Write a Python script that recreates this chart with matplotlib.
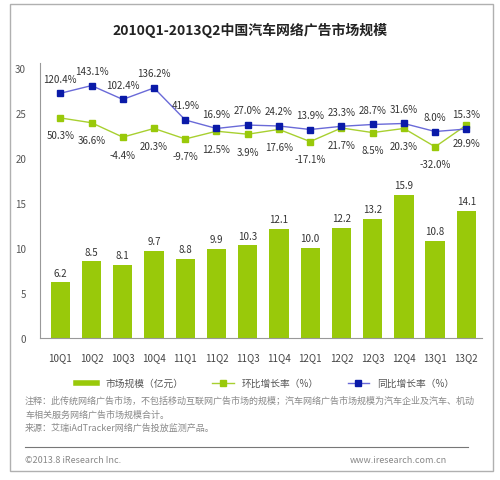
import matplotlib
matplotlib.use("Agg")
import matplotlib.pyplot as plt
from matplotlib.patches import Rectangle
from matplotlib.lines import Line2D

plt.rcParams['font.family'] = ['Noto Sans CJK SC', 'DejaVu Sans']

quarters = ["10Q1","10Q2","10Q3","10Q4","11Q1","11Q2","11Q3","11Q4","12Q1","12Q2","12Q3","12Q4","13Q1","13Q2"]
market = [6.2,8.5,8.1,9.7,8.8,9.9,10.3,12.1,10.0,12.2,13.2,15.9,10.8,14.1]
qoq = [50.3,36.6,-4.4,20.3,-9.7,12.5,3.9,17.6,-17.1,21.7,8.5,20.3,-32.0,29.9]
yoy = [120.4,143.1,102.4,136.2,41.9,16.9,27.0,24.2,13.9,23.3,28.7,31.6,8.0,15.3]

W, H = 500, 481
fig = plt.figure(figsize=(W/100, H/100), dpi=100)
fig.patches.append(Rectangle((10/W, 1-472/H), 483/W, 467/H, transform=fig.transFigure,
                             fill=False, edgecolor='#b0b0b0', lw=1))

ax = fig.add_axes([40/W, 1-339/H, 442/W, 275/H])
x = list(range(len(quarters)))
ax.bar(x, market, width=0.62, color='#99c90a')
for xi, v in zip(x, market):
    ax.text(xi, v + 0.5, f"{v:.1f}", ha='center', va='bottom', fontsize=7, color='#333333')
ax.set_ylim(0, 30.5)
ax.set_xlim(-0.65, 13.5)
ax.set_yticks([0,5,10,15,20,25,30])
ax.tick_params(axis='y', length=0, labelsize=7, labelcolor='#555555', pad=10)
ax.tick_params(axis='x', length=0, labelsize=7, labelcolor='#444444', pad=10)
ax.set_xticks(x)
ax.set_xticklabels(quarters)
for s in ['top','right']:
    ax.spines[s].set_visible(False)
ax.spines['left'].set_color('#999999')
ax.spines['bottom'].set_color('#999999')

# green (qoq): y = 22.45 + 0.0389 v
a2 = ax.twinx()
a2.set_ylim(-22.45/0.0389, (30.5-22.45)/0.0389)
a2.plot(x, qoq, color='#a8d030', lw=1, marker='s', ms=5, mfc='#99c90a', mec='#99c90a')
a2.axis('off')
# blue (yoy): y = 22.6 + 0.0377 v
a3 = ax.twinx()
a3.set_ylim(-22.6/0.0377, (30.5-22.6)/0.0377)
a3.plot(x, yoy, color='#6a6ad8', lw=1, marker='s', ms=5, mfc='#0a1aa8', mec='#0a1aa8')
a3.axis('off')

for xi, v in zip(x, qoq):
    a2.annotate(f"{v:.1f}%", (xi, v), xytext=(0, -9), textcoords='offset points',
                ha='center', va='top', fontsize=7, color='#333333')
for xi, v in zip(x, yoy):
    a3.annotate(f"{v:.1f}%", (xi, v), xytext=(0, 7), textcoords='offset points',
                ha='center', va='bottom', fontsize=7, color='#333333')

fig.text(0.5, 1-30/H, "2010Q1-2013Q2中国汽车网络广告市场规模", ha='center', va='center',
         fontsize=10, fontweight='bold', color='#222222')

handles = [Line2D([], [], color='#99c90a', lw=4),
           Line2D([], [], color='#a8d030', lw=1, marker='s', ms=4, mfc='#99c90a', mec='#99c90a'),
           Line2D([], [], color='#6a6ad8', lw=1, marker='s', ms=4, mfc='#0a1aa8', mec='#0a1aa8')]
fig.legend(handles, ["市场规模（亿元）", "环比增长率（%）", "同比增长率（%）"],
           loc='center', bbox_to_anchor=(0.53, 1-384/H), ncol=3, frameon=False,
           fontsize=7, handlelength=2.2, columnspacing=3, labelcolor='#555555')

note = ("注释：此传统网络广告市场，不包括移动互联网广告市场的规模；汽车网络广告市场规模为汽车企业及汽车、机动\n"
        "车相关服务网络广告市场规模合计。\n来源：艾瑞iAdTracker网络广告投放监测产品。")
fig.text(25/W, 1-397/H, note, ha='left', va='top', fontsize=6.5, color='#888888', linespacing=1.55)
fig.add_artist(Line2D([25/W, 468/W], [1-448/H, 1-448/H], transform=fig.transFigure, color='#777777', lw=0.8))
fig.text(25/W, 1-461/H, "©2013.8 iResearch Inc.", ha='left', va='center', fontsize=6.5, color='#888888')
fig.text(350/W, 1-461/H, "www.iresearch.com.cn", ha='left', va='center', fontsize=6.5, color='#888888')

fig.savefig("out.png", dpi=100)
